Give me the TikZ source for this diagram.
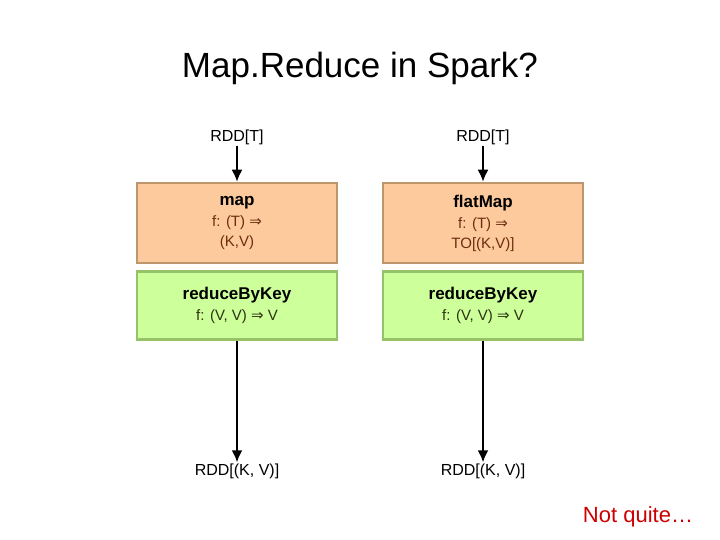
\documentclass[tikz,border=0pt]{standalone}
\usepackage{fontspec}
\setmainfont{Liberation Sans}
\newfontfamily\symfont{DejaVu Sans}
\usetikzlibrary{arrows.meta,positioning}
\definecolor{mapfill}{RGB}{252,202,156}
\definecolor{mapline}{RGB}{190,150,110}
\definecolor{maptext}{RGB}{110,45,15}
\definecolor{redfill}{RGB}{205,255,155}
\definecolor{redline}{RGB}{150,195,105}
\definecolor{redtext}{RGB}{45,50,15}
\definecolor{notred}{RGB}{204,0,0}
\newcommand{\imp}{{\symfont\char"21D2}}
\tikzstyle{mapop}=[rectangle,draw=mapline,line width=2.5pt,fill=mapfill,align=center,minimum width=200pt,minimum height=80pt,inner sep=0pt,font=\fontsize{15}{20}\selectfont]
\tikzstyle{redop}=[rectangle,draw=redline,line width=2.5pt,fill=redfill,align=center,minimum width=200pt,minimum height=68pt,inner sep=0pt,font=\fontsize{15}{21}\selectfont]
\tikzstyle{rdd}=[font=\fontsize{16}{19}\selectfont,inner sep=1pt]
\tikzstyle{arr}=[-{Latex[length=12pt,width=11pt]},line width=2pt]

\begin{document}
\begin{tikzpicture}[x=1pt,y=-1pt]
\useasboundingbox[fill=white] (0,0) rectangle (720,540);
\node[font=\fontsize{35}{40}\selectfont] (title) at (360,68) {Map.Reduce in Spark?};
% left: map
\node[mapop] (map) at (237,223) {\textbf{\fontsize{17}{20}\selectfont map}\\[1pt]\textcolor{maptext}{f: (T) \imp}\\\textcolor{maptext}{(K,V)}};
\node[redop, below=6pt of map] (redA) {\textbf{\fontsize{17}{19}\selectfont reduceByKey}\\\textcolor{redtext}{f: (V, V) \imp{} V}};
\node[rdd] (inA) at (237,137) {RDD[T]};
\node[rdd] (outA) at (237,471) {RDD[(K, V)]};
% right: flatMap
\node[mapop] (fmap) at (483,223) {\textbf{\fontsize{17}{20}\selectfont flatMap}\\[1pt]\textcolor{maptext}{f: (T) \imp}\\\textcolor{maptext}{TO[(K,V)]}};
\node[redop, below=6pt of fmap] (redB) {\textbf{\fontsize{17}{19}\selectfont reduceByKey}\\\textcolor{redtext}{f: (V, V) \imp{} V}};
\node[rdd] (inB) at (483,137) {RDD[T]};
\node[rdd] (outB) at (483,471) {RDD[(K, V)]};
\draw[arr] (inA) -- (map);
\draw[arr] (redA) -- (outA);
\draw[arr] (inB) -- (fmap);
\draw[arr] (redB) -- (outB);
\node[font=\fontsize{22}{26}\selectfont,text=notred] (note) at (638,517) {Not quite…};
\end{tikzpicture}
\end{document}
